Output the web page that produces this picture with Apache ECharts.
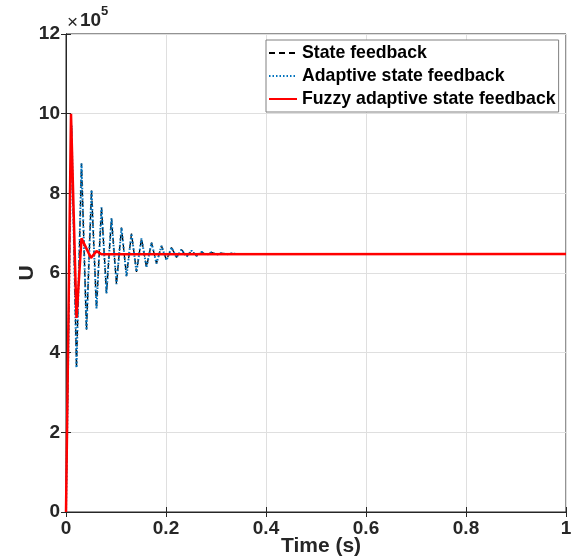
<!DOCTYPE html>
<html>
<head>
<meta charset="utf-8">
<script src="https://cdn.jsdelivr.net/npm/echarts@6/dist/echarts.min.js"></script>
<style>
html,body{margin:0;padding:0;background:#fff;}
#chart{width:571px;height:560px;}
</style>
</head>
<body>
<div id="chart"></div>
<script>
// Time (s) for the state-feedback / adaptive curves
const timeOsc = [0, 0.011, 0.021, 0.031, 0.041, 0.051, 0.061, 0.071, 0.081, 0.091, 0.101,
  0.111, 0.121, 0.131, 0.141, 0.151, 0.161, 0.171, 0.181, 0.191, 0.201,
  0.211, 0.221, 0.231, 0.241, 0.251, 0.261, 0.271, 0.281, 0.291, 0.301,
  0.311, 0.321, 0.331, 0.341, 1.0];
// U in units of 10^5
const stateFeedback = [0, 9.7, 3.62, 8.75, 4.57, 8.08, 5.11, 7.65, 5.49, 7.37, 5.72,
  7.14, 5.92, 6.99, 6.03, 6.87, 6.14, 6.76, 6.24, 6.68, 6.32,
  6.64, 6.39, 6.59, 6.41, 6.56, 6.43, 6.53, 6.45, 6.52, 6.46,
  6.50, 6.47, 6.49, 6.48, 6.48];
const adaptiveFeedback = [0, 9.7, 3.62, 8.75, 4.57, 8.08, 5.11, 7.65, 5.49, 7.37, 5.72,
  7.14, 5.92, 6.99, 6.03, 6.87, 6.14, 6.76, 6.24, 6.68, 6.32,
  6.64, 6.39, 6.59, 6.41, 6.56, 6.43, 6.53, 6.45, 6.52, 6.46,
  6.50, 6.47, 6.49, 6.48, 6.48];
// Fuzzy adaptive curve
const timeFuzzy = [0, 0.01, 0.021, 0.031, 0.05, 0.061, 0.071, 1.0];
const fuzzyFeedback = [0, 10.0, 4.87, 6.87, 6.38, 6.55, 6.47, 6.48];

const seriesNames = ['State feedback', 'Adaptive state feedback', 'Fuzzy adaptive state feedback'];
const xTicks = [0, 0.2, 0.4, 0.6, 0.8, 1];
const yTicks = [0, 2, 4, 6, 8, 10, 12];

const FONT = "'Liberation Sans', Arial, Helvetica, sans-serif";
const TXT = '#262626';

function pairs(xs, ys) { return xs.map((x, i) => [x, ys[i]]); }

const chart = echarts.init(document.getElementById('chart'));
chart.setOption({
  animation: false,
  backgroundColor: '#fff',
  grid: { left: 66, right: 5, top: 34, bottom: 48, containLabel: false, outerBoundsMode: 'none',
    show: true, borderColor: TXT, borderWidth: 1, backgroundColor: 'transparent' },
  legend: {
    orient: 'vertical', left: 266, top: 40,
    padding: [4, 3, 4, 2],
    itemWidth: 28, itemHeight: 14, itemGap: 5,
    backgroundColor: '#fff', borderColor: '#808080', borderWidth: 1,
    itemStyle: { opacity: 0 },
    textStyle: { fontFamily: FONT, fontSize: 17.7, fontWeight: 'bold', color: '#000' },
    data: seriesNames
  },
  xAxis: [{
    type: 'value', min: xTicks[0], max: xTicks[xTicks.length - 1], interval: 0.2,
    name: 'Time (s)', nameLocation: 'middle', nameGap: 24, nameMoveOverlap: false,
    nameTextStyle: { fontFamily: FONT, fontSize: 21, fontWeight: 'bold', color: TXT, padding: [0, 0, 0, 10] },
    axisLine: { show: true, lineStyle: { color: TXT, width: 1 } },
    axisTick: { show: true, inside: true, length: 5, lineStyle: { color: TXT } },
    axisLabel: { fontFamily: FONT, fontSize: 19, fontWeight: 'bold', color: TXT, margin: 7,
      formatter: v => String(+v.toFixed(1)) },
    splitLine: { show: true, lineStyle: { color: '#dfdfdf', width: 1 } }
  }, {
    type: 'value', position: 'top', min: xTicks[0], max: xTicks[xTicks.length - 1], interval: 0.2,
    axisLine: { show: true, lineStyle: { color: TXT } },
    axisTick: { show: true, inside: true, length: 5, lineStyle: { color: TXT } },
    axisLabel: { show: false }, splitLine: { show: false }
  }],
  yAxis: [{
    type: 'value', min: yTicks[0], max: yTicks[yTicks.length - 1], interval: 2,
    name: 'U', nameLocation: 'middle', nameGap: 28, nameMoveOverlap: false,
    nameTextStyle: { fontFamily: FONT, fontSize: 21, fontWeight: 'bold', color: TXT },
    axisLine: { show: true, lineStyle: { color: TXT, width: 1 } },
    axisTick: { show: true, inside: true, length: 5, lineStyle: { color: TXT } },
    axisLabel: { fontFamily: FONT, fontSize: 19, fontWeight: 'bold', color: TXT, margin: 6 },
    splitLine: { show: true, lineStyle: { color: '#dfdfdf', width: 1 } }
  }, {
    type: 'value', position: 'right', min: yTicks[0], max: yTicks[yTicks.length - 1], interval: 2,
    axisLine: { show: true, lineStyle: { color: TXT } },
    axisTick: { show: true, inside: true, length: 5, lineStyle: { color: TXT } },
    axisLabel: { show: false }, splitLine: { show: false }
  }],
  graphic: [
    { type: 'text', left: 67, top: 13, style: { text: '×', font: `normal 19px ${FONT}`, fill: TXT } },
    { type: 'text', left: 80, top: 11, style: { text: '10', font: `bold 19px ${FONT}`, fill: TXT } },
    { type: 'text', left: 101, top: 5, style: { text: '5', font: `bold 13px ${FONT}`, fill: TXT } }
  ],
  series: [
    {
      name: seriesNames[0], type: 'line', data: pairs(timeOsc, stateFeedback),
      symbol: 'none', showSymbol: false, silent: true,
      lineStyle: { color: '#000', width: 1.3, type: [6, 4] }, itemStyle: { color: '#000' }, z: 2
    },
    {
      name: seriesNames[1], type: 'line', data: pairs(timeOsc, adaptiveFeedback),
      symbol: 'none', showSymbol: false, silent: true,
      lineStyle: { color: '#0072BD', width: 2, type: [1.5, 2] }, itemStyle: { color: '#0072BD' }, z: 3
    },
    {
      name: seriesNames[2], type: 'line', data: pairs(timeFuzzy, fuzzyFeedback),
      symbol: 'none', showSymbol: false, silent: true,
      lineStyle: { color: '#FF0000', width: 2.5 }, itemStyle: { color: '#FF0000' }, z: 4
    }
  ]
});
</script>
</body>
</html>
